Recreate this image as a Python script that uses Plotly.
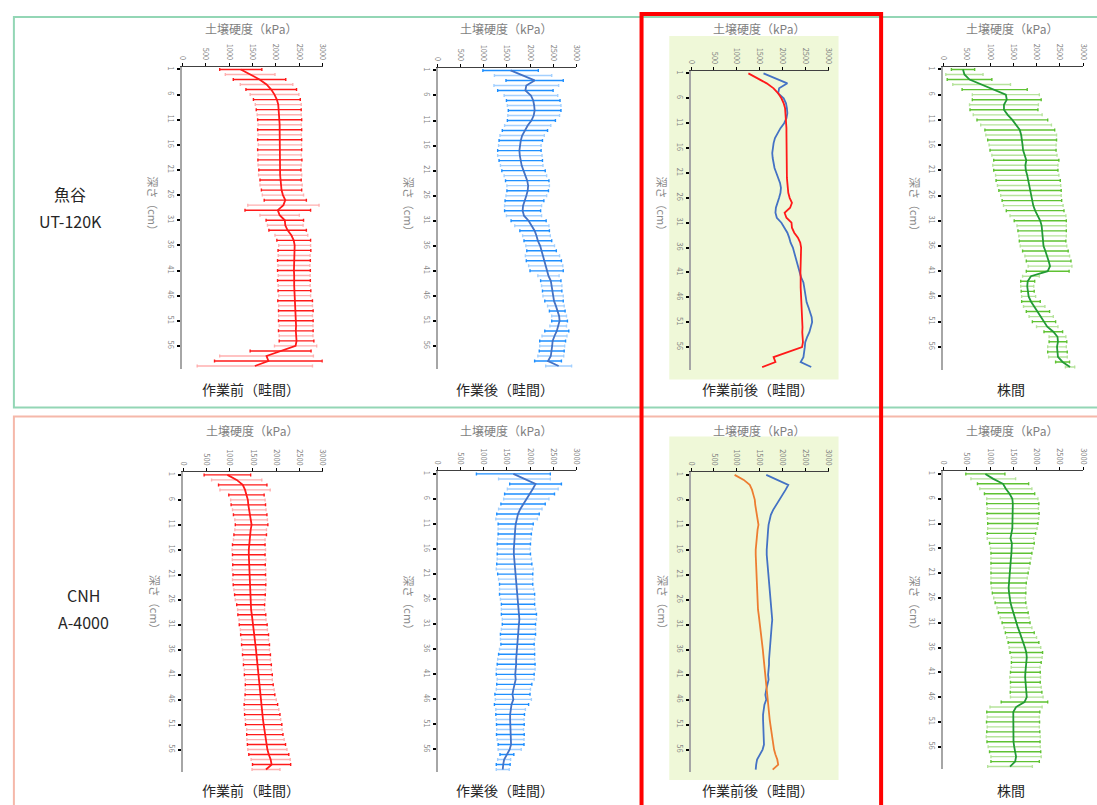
import plotly.graph_objects as go

W, H = 1097, 805

depth = list(range(1, 61))
y_tickvals = [1, 6, 11, 16, 21, 26, 31, 36, 41, 46, 51, 56]
x_tickvals = [0, 500, 1000, 1500, 2000, 2500, 3000]

# ---- 魚谷 UT-120K ----
ut_before_mean = [1250, 1450, 1650, 1800, 1900, 1970, 2020, 2050, 2060, 2070,
                  2080, 2080, 2080, 2080, 2080, 2085, 2080, 2080, 2085, 2080,
                  2085, 2090, 2100, 2110, 2120, 2150, 2200, 2160, 2040, 2080,
                  2190, 2200, 2250, 2330, 2380, 2400, 2395, 2390, 2385, 2385,
                  2385, 2390, 2385, 2390, 2395, 2400, 2410, 2420, 2425, 2420,
                  2425, 2430, 2425, 2430, 2440, 2420, 2100, 1800, 1840, 1550]
ut_before_sd = [450, 530, 560, 560, 540, 520, 500, 490, 480, 470,
                470, 460, 470, 460, 470, 460, 470, 460, 470, 460,
                450, 460, 440, 450, 430, 440, 450, 760, 700, 420,
                400, 380, 400, 350, 360, 340, 350, 340, 350, 340,
                350, 340, 350, 340, 350, 340, 370, 360, 370, 360,
                370, 360, 370, 360, 370, 450, 650, 1000, 1150, 1230]
ut_after_mean = [1580, 1850, 2100, 1920, 1900, 2020, 2070, 2090, 2100, 2080,
                 2030, 1950, 1890, 1830, 1800, 1780, 1770, 1780, 1800, 1820,
                 1860, 1900, 1940, 1960, 1950, 1920, 1880, 1850, 1840, 1870,
                 1970, 2040, 2100, 2140, 2170, 2220, 2250, 2270, 2300, 2340,
                 2360, 2400, 2450, 2470, 2480, 2500, 2520, 2560, 2590, 2630,
                 2640, 2610, 2580, 2530, 2490, 2480, 2470, 2450, 2390, 2620]
ut_after_sd = [600, 620, 620, 700, 600, 580, 580, 580, 570, 560,
               520, 500, 490, 480, 470, 460, 470, 480, 470, 460,
               470, 460, 470, 460, 450, 440, 420, 400, 390, 380,
               380, 370, 320, 300, 300, 310, 320, 370, 380, 370,
               360, 230, 220, 220, 210, 220, 200, 180, 170, 160,
               170, 180, 260, 270, 280, 270, 270, 280, 290, 280]
ut_hill_mean = [420, 450, 560, 820, 1100, 1340, 1360, 1300, 1300, 1380,
                1480, 1560, 1640, 1670, 1690, 1700, 1710, 1740, 1780, 1760,
                1770, 1800, 1820, 1840, 1860, 1880, 1900, 1930, 1970, 2030,
                2080, 2110, 2120, 2130, 2130, 2150, 2190, 2230, 2260, 2290,
                2240, 1880, 1810, 1800, 1810, 1830, 1880, 1950, 2030, 2100,
                2160, 2230, 2360, 2450, 2460, 2440, 2450, 2460, 2560, 2720]
ut_hill_sd = [250, 400, 480, 620, 700, 720, 740, 740, 730, 740,
              760, 760, 750, 760, 740, 720, 710, 700, 700, 700,
              690, 680, 690, 680, 670, 650, 640, 640, 620, 600,
              560, 530, 520, 510, 500, 500, 490, 480, 480, 470,
              460, 180, 150, 140, 140, 150, 200, 230, 250, 260,
              250, 230, 200, 180, 190, 200, 210, 200, 150, 100]

# ---- CNH A-4000 ----
cnh_before_mean = [950, 1150, 1280, 1330, 1360, 1390, 1400, 1420, 1440, 1460,
                   1470, 1450, 1440, 1420, 1410, 1410, 1410, 1415, 1415, 1415,
                   1420, 1420, 1425, 1430, 1435, 1440, 1450, 1460, 1475, 1490,
                   1505, 1520, 1535, 1545, 1555, 1565, 1575, 1585, 1595, 1605,
                   1615, 1625, 1635, 1645, 1650, 1660, 1670, 1685, 1700, 1715,
                   1730, 1745, 1755, 1770, 1790, 1810, 1840, 1880, 1900, 1780]
cnh_before_sd = [500, 540, 520, 540, 380, 370, 370, 360, 360, 350,
                 350, 340, 350, 340, 350, 360, 350, 360, 350, 360,
                 350, 360, 350, 340, 330, 320, 300, 290, 300, 290,
                 300, 290, 300, 290, 300, 290, 300, 290, 300, 290,
                 300, 290, 300, 310, 320, 340, 360, 370, 380, 380,
                 390, 380, 390, 400, 410, 420, 430, 420, 410, 300]
cnh_after_mean = [1640, 1880, 2120, 2060, 1990, 1920, 1850, 1790, 1740, 1710,
                  1690, 1680, 1670, 1660, 1650, 1650, 1650, 1660, 1660, 1670,
                  1680, 1690, 1700, 1710, 1720, 1730, 1740, 1750, 1760, 1770,
                  1760, 1750, 1740, 1730, 1730, 1720, 1710, 1700, 1700, 1690,
                  1680, 1690, 1660, 1640, 1620, 1640, 1600, 1580, 1570, 1570,
                  1575, 1570, 1575, 1580, 1590, 1560, 1500, 1440, 1420, 1410]
cnh_after_sd = [800, 560, 560, 550, 540, 490, 480, 470, 460, 450,
                380, 370, 360, 360, 360, 350, 360, 370, 380, 400,
                380, 370, 360, 370, 380, 370, 360, 370, 380, 370,
                360, 370, 380, 370, 360, 380, 390, 400, 410, 420,
                410, 400, 380, 370, 380, 390, 370, 320, 310, 300,
                300, 290, 300, 290, 280, 250, 150, 140, 150, 140]
cnh_hill_mean = [900, 1070, 1280, 1340, 1420, 1480, 1490, 1490, 1495, 1495,
                 1490, 1480, 1460, 1440, 1470, 1470, 1460, 1450, 1440, 1430,
                 1420, 1410, 1400, 1400, 1410, 1420, 1440, 1470, 1500, 1530,
                 1560, 1600, 1640, 1680, 1720, 1750, 1780, 1790, 1780, 1765,
                 1760, 1755, 1760, 1770, 1775, 1790, 1740, 1560, 1500, 1500,
                 1495, 1500, 1500, 1500, 1505, 1520, 1540, 1560, 1540, 1430]
cnh_hill_sd = [420, 480, 550, 560, 540, 550, 560, 550, 560, 550,
               540, 530, 520, 500, 480, 460, 440, 430, 420, 410,
               400, 390, 380, 370, 360, 340, 330, 320, 320, 310,
               300, 300, 310, 320, 330, 340, 350, 330, 320, 310,
               320, 330, 320, 330, 340, 350, 500, 560, 570, 560,
               570, 560, 570, 580, 570, 560, 550, 540, 520, 480]

x_title = "土壌硬度（kPa）"
y_title = "深さ（cm）"
panel_labels = ["作業前（畦間）", "作業後（畦間）", "作業前後（畦間）", "株間",
                "作業前（畦間）", "作業後（畦間）", "作業前後（畦間）", "株間"]
row_labels = [("魚谷", "UT-120K"), ("CNH", "A-4000")]

RED, RED_L = "#ff1a1a", "#ffb0b0"
BLUE_BAR, BLUE_BAR_L = "#1e8fff", "#a3d0ff"
BLUE_LINE = "#4472c4"
GREEN_BAR, GREEN_BAR_L = "#5fc232", "#b6e39c"
GREEN_LINE = "#239a35"
ORANGE = "#ed7d31"
CJK = "Noto Sans CJK JP"

# panel pixel boxes (x of 0 kPa, x of 3000 kPa, top axis y, bottom y)
boxes = [(180, 322, 66, 368), (438, 578, 67, 368), (694, 833, 70, 369), (949, 1090, 66, 369),
         (181, 322, 472, 772), (438, 578, 471, 772), (694, 833, 472, 772), (949, 1090, 471, 769)]

fig = go.Figure()


def ax_names(k):
    return ("x" if k == 0 else f"x{k+1}", "y" if k == 0 else f"y{k+1}")


def add_errbars(k, mean, sd, dark, light):
    xa, ya = ax_names(k)
    for start, col in ((0, dark), (1, light)):
        idx = list(range(start, len(depth), 2))
        fig.add_trace(go.Scatter(
            x=[mean[i] for i in idx], y=[depth[i] for i in idx], mode="markers",
            marker=dict(size=2, color="rgba(0,0,0,0)"),
            error_x=dict(type="data", array=[sd[i] for i in idx], color=col,
                         thickness=1.4, width=1.5),
            xaxis=xa, yaxis=ya, hoverinfo="skip", showlegend=False))


def add_line(k, mean, color, width=1.8):
    xa, ya = ax_names(k)
    fig.add_trace(go.Scatter(x=mean, y=depth, mode="lines",
                             line=dict(color=color, width=width),
                             xaxis=xa, yaxis=ya, showlegend=False, hoverinfo="skip"))


# top row
add_errbars(0, ut_before_mean, ut_before_sd, RED, RED_L)
add_line(0, ut_before_mean, RED)
add_errbars(1, ut_after_mean, ut_after_sd, BLUE_BAR, BLUE_BAR_L)
add_line(1, ut_after_mean, BLUE_LINE)
add_line(2, ut_after_mean, BLUE_LINE)
add_line(2, ut_before_mean, RED)
add_errbars(3, ut_hill_mean, ut_hill_sd, GREEN_BAR, GREEN_BAR_L)
add_line(3, ut_hill_mean, GREEN_LINE)
# bottom row
add_errbars(4, cnh_before_mean, cnh_before_sd, RED, RED_L)
add_line(4, cnh_before_mean, RED)
add_errbars(5, cnh_after_mean, cnh_after_sd, BLUE_BAR, BLUE_BAR_L)
add_line(5, cnh_after_mean, BLUE_LINE)
add_line(6, cnh_after_mean, BLUE_LINE)
add_line(6, cnh_before_mean, ORANGE)
add_errbars(7, cnh_hill_mean, cnh_hill_sd, GREEN_BAR, GREEN_BAR_L)
add_line(7, cnh_hill_mean, GREEN_LINE)

layout = dict(width=W, height=H, margin=dict(l=0, r=0, t=0, b=0),
              paper_bgcolor="white", plot_bgcolor="rgba(0,0,0,0)", showlegend=False)

annotations = []
shapes = []
TICKFONT = dict(family=CJK, size=7.5, color="#808080")

for k, (x0, x1, y0, y1) in enumerate(boxes):
    xa, ya = ax_names(k)
    xkey = "xaxis" if k == 0 else f"xaxis{k+1}"
    ykey = "yaxis" if k == 0 else f"yaxis{k+1}"
    layout[xkey] = dict(domain=[x0 / W, x1 / W], anchor=ya, side="top", range=[0, 3000],
                        tickvals=x_tickvals, tickangle=90, tickfont=TICKFONT,
                        showgrid=False, zeroline=False, showline=True, linecolor="#404040",
                        linewidth=1, ticks="outside", ticklen=3, tickcolor="#000000",
                        fixedrange=True)
    layout[ykey] = dict(domain=[1 - y1 / H, 1 - y0 / H], anchor=xa, range=[60.5, 0.5],
                        tickvals=y_tickvals, tickangle=90, tickfont=TICKFONT,
                        showgrid=False, zeroline=False, showline=True, linecolor="#a6a6a6",
                        linewidth=2, ticks="outside", ticklen=3, tickcolor="#000000",
                        tickwidth=1.5, fixedrange=True)
    cx = (x0 + x1) / 2
    top = k < 4
    title_y = 28 if top else 430
    label_y = 388 if top else 790
    title_cx = cx - 1
    annotations.append(dict(text=x_title, x=title_cx / W, y=1 - title_y / H, xref="paper",
                            yref="paper", showarrow=False, xanchor="center", yanchor="middle",
                            font=dict(family=CJK, size=12, color="#7f7f7f")))
    annotations.append(dict(text=panel_labels[k], x=(cx - 2) / W, y=1 - label_y / H,
                            xref="paper", yref="paper", showarrow=False, xanchor="center",
                            yanchor="middle", font=dict(family=CJK, size=14, color="#262626")))
    ytx = x0 - 29
    yty = 206 if top else 605
    annotations.append(dict(text=y_title, x=ytx / W, y=1 - yty / H, xref="paper", yref="paper",
                            showarrow=False, textangle=90, xanchor="center", yanchor="middle",
                            font=dict(family=CJK, size=11, color="#8a8a8a")))

# row labels
for (l1, l2), (cx, cy1, cy2) in zip(row_labels, [(67, 193, 220), (80, 595, 622)]):
    for t, cy in ((l1, cy1), (l2, cy2)):
        annotations.append(dict(text=t, x=cx / W, y=1 - cy / H, xref="paper", yref="paper",
                                showarrow=False, xanchor="center", yanchor="middle",
                                font=dict(family=CJK, size=16, color="#262626")))

# light green backgrounds of comparison panels
for (gx0, gy0, gx1, gy1) in [(672, 35, 843, 379), (672, 436, 843, 780)]:
    shapes.append(dict(type="rect", xref="paper", yref="paper", x0=gx0 / W, x1=gx1 / W,
                       y0=1 - gy1 / H, y1=1 - gy0 / H, fillcolor="#eff8d8",
                       line=dict(width=0), layer="below"))
# group frames
shapes.append(dict(type="rect", xref="paper", yref="paper", x0=10 / W, x1=1110 / W,
                   y0=1 - 407 / H, y1=1 - 16 / H, line=dict(color="#93d6b5", width=2)))
shapes.append(dict(type="rect", xref="paper", yref="paper", x0=10 / W, x1=1110 / W,
                   y0=1 - 820 / H, y1=1 - 416 / H, line=dict(color="#f5b8aa", width=2)))
# red highlight frame
shapes.append(dict(type="rect", xref="paper", yref="paper", x0=644 / W, x1=886 / W,
                   y0=1 - 820 / H, y1=1 - 13 / H, line=dict(color="#ff0000", width=4)))

layout["annotations"] = annotations
layout["shapes"] = shapes
fig.update_layout(**layout)
fig.write_html("out.html", config={"displayModeBar": False},
               post_script="document.body.style.margin='0';document.body.style.overflow='hidden';")
